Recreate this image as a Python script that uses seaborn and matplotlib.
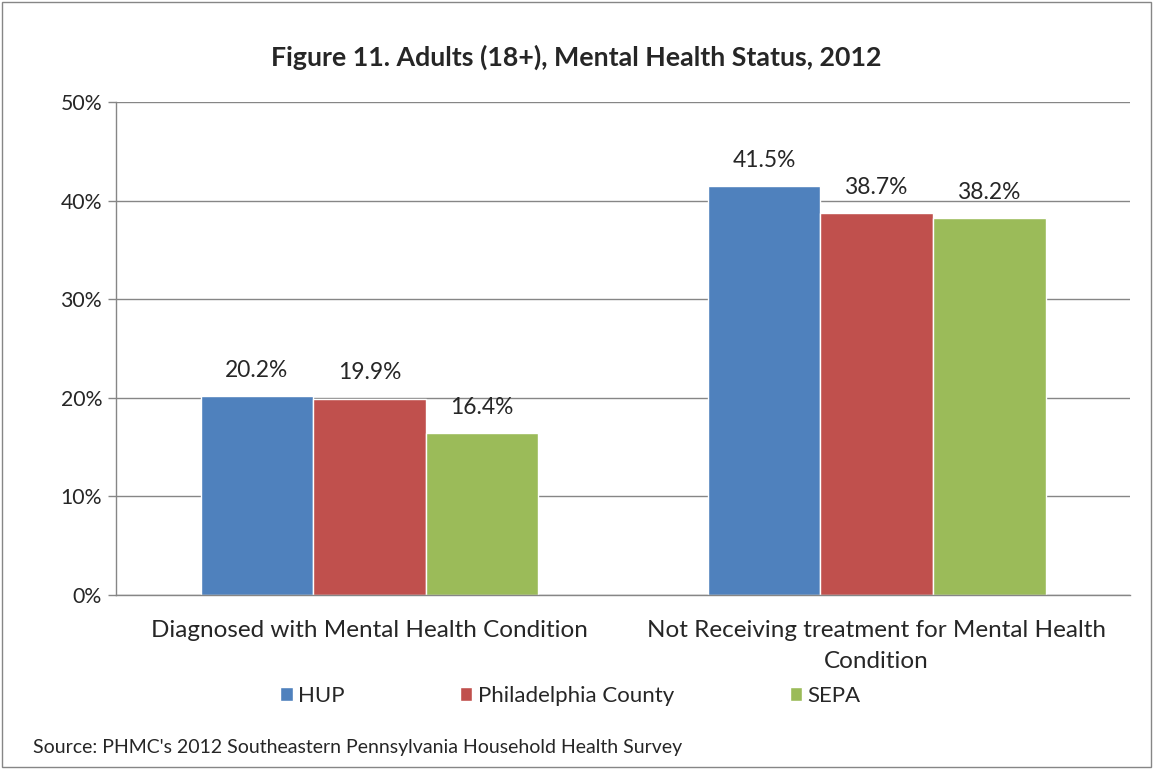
import numpy as np
import pandas as pd
import matplotlib
matplotlib.use("Agg")
import matplotlib.pyplot as plt
from matplotlib.patches import Rectangle
from matplotlib.ticker import FixedLocator, PercentFormatter
import seaborn as sns

# ── Data ──────────────────────────────────────────────────────
categories = ["Diagnosed with Mental Health Condition",
              "Not Receiving treatment for Mental Health\nCondition"]
regions = ["HUP", "Philadelphia County", "SEPA"]
hup = [20.2, 41.5]
philly = [19.9, 38.7]
sepa = [16.4, 38.2]
colors = ["#4F81BD", "#C0504D", "#9BBB59"]

df = pd.DataFrame({
    "category": categories * 3,
    "region": np.repeat(regions, 2),
    "value": hup + philly + sepa,
})

# ── Plot ──────────────────────────────────────────────────────
sns.set_style("white")
plt.rcParams['font.family'] = ['Lato', 'DejaVu Sans']

fig = plt.figure(figsize=(11.53, 7.69), dpi=100)
ax = fig.add_axes([0.1006, 0.2263, 0.8797, 0.6411])

sns.barplot(data=df, x="category", y="value", hue="region",
            palette=colors, width=0.666, saturation=1, ax=ax,
            errorbar=None, legend=True)

for cont in ax.containers:
    ax.bar_label(cont, labels=[f"{v:.1f}%" for v in cont.datavalues],
                 padding=11, fontsize=16.4)

ax.set_ylim(0, 50)
ax.set_xlim(-0.5, 1.5)
ax.yaxis.set_major_locator(FixedLocator([0, 10, 20, 30, 40, 50]))
ax.yaxis.set_major_formatter(PercentFormatter(decimals=0))
ax.grid(axis="y", color="#868686", linewidth=1)
ax.set_axisbelow(True)

# category tick marks sit on the boundaries
ax.set_xticks([0, 1])
ax.set_xticklabels(categories, fontsize=17.5, linespacing=1.6)
ax.tick_params(axis="x", length=0, pad=18)
ax.set_xticks([-0.5, 0.5, 1.5], minor=True)
ax.tick_params(axis="x", which="minor", length=6, color="#868686", width=1)
ax.tick_params(axis="y", labelsize=15.3, length=6, color="#868686", width=1,
               left=True, pad=4)

for s in ["top", "right"]:
    ax.spines[s].set_visible(False)
for s in ["left", "bottom"]:
    ax.spines[s].set_color("#868686")
    ax.spines[s].set_linewidth(1)

ax.set_xlabel("")
ax.set_ylabel("")

leg = ax.legend(loc="center", ncol=3, frameon=False, fontsize=16,
                handlelength=0.55, handleheight=0.55, columnspacing=5.2,
                handletextpad=0.25)
leg.set_bbox_to_anchor((0.5 - 6 / 1153, 1 - 696 / 769), transform=fig.transFigure)

fig.text(0.5, 1 - 57 / 769, "Figure 11. Adults (18+), Mental Health Status, 2012",
         ha="center", va="center", fontsize=19.3, fontweight="bold")
fig.text(33 / 1153, 1 - 747 / 769,
         "Source: PHMC's 2012 Southeastern Pennsylvania Household Health Survey",
         ha="left", va="center", fontsize=14)

fig.patches.append(Rectangle((0.002, 0.002), 0.996, 0.996, transform=fig.transFigure,
                             fill=False, edgecolor="#868686", linewidth=1))

fig.savefig("out.png", dpi=100)
